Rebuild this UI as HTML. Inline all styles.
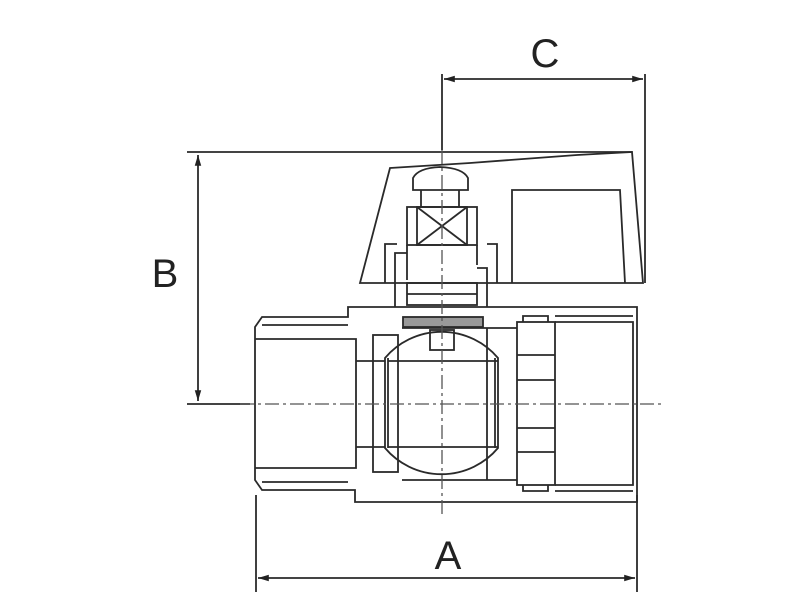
<!DOCTYPE html>
<html><head><style>html,body{margin:0;padding:0;background:#fff}svg{display:block}</style></head>
<body>
<svg width="800" height="600" viewBox="0 0 800 600" xmlns="http://www.w3.org/2000/svg">
<defs>
<marker id="ar" viewBox="0 0 10 10" refX="10" refY="5" markerWidth="8" markerHeight="6" orient="auto-start-reverse"><path d="M0,2 L10,5 L0,8z" fill="#222"/></marker>
</defs>
<g fill="none" stroke="#2a2a2a" stroke-width="1.8">
<line x1="442" y1="74" x2="442" y2="150"/>
<line x1="645" y1="74" x2="645" y2="283"/>
<line x1="444" y1="79" x2="643" y2="79" marker-start="url(#ar)" marker-end="url(#ar)"/>
<line x1="187" y1="152" x2="632" y2="152"/>
<line x1="187" y1="404" x2="250" y2="404"/>
<line x1="198" y1="155" x2="198" y2="401" marker-start="url(#ar)" marker-end="url(#ar)"/>
<line x1="256" y1="495" x2="256" y2="592"/>
<line x1="637" y1="495" x2="637" y2="592"/>
<line x1="258" y1="578" x2="635" y2="578" marker-start="url(#ar)" marker-end="url(#ar)"/>
<path d="M390,168 L470,163 L577,155 L632,152 L643,283 L360,283 Z"/>
<path d="M512,283 L512,190 L620,190 L625,283"/>
<path d="M413,190 L413,178 Q418,168 440,167 Q463,168 468,178 L468,190 Z"/>
<line x1="421" y1="190" x2="421" y2="207"/><line x1="459" y1="190" x2="459" y2="207"/>
<rect x="407" y="207" width="70" height="38"/>
<rect x="417" y="207" width="50" height="38"/>
<line x1="417" y1="207" x2="467" y2="245"/><line x1="467" y1="207" x2="417" y2="245"/>
<path d="M407,245 L407,280 M477,245 L477,265"/>
<path d="M385,283 L385,244 L397,244 M487,244 L497,244 L497,283"/>
<path d="M395,307 L395,253 L407,253 M477,268 L487,268 L487,307"/>
<rect x="407" y="283" width="70" height="22"/>
<line x1="407" y1="294" x2="477" y2="294"/>
<rect x="403" y="317" width="80" height="10" fill="#999"/>
<rect x="430" y="330" width="24" height="20"/>
<path d="M255,327 L262,317 L348,317 L348,307 L637,307 L637,502 L355,502 L355,490 L262,490 L255,480 Z"/>
<line x1="262" y1="325" x2="348" y2="325"/><line x1="262" y1="482" x2="348" y2="482"/>
<path d="M255,339 L356,339 L356,468 L255,468"/>
<line x1="356" y1="361" x2="385" y2="361"/><line x1="356" y1="447" x2="385" y2="447"/>
<rect x="373" y="335" width="25" height="137"/>
<line x1="402" y1="328" x2="517" y2="328"/><line x1="402" y1="480" x2="517" y2="480"/>
<line x1="487" y1="328" x2="487" y2="480"/>
<path d="M385,358 A74,74 0 0 1 498,358 L498,448 A74,74 0 0 1 385,448 Z"/>
<line x1="388" y1="361" x2="498" y2="361"/><line x1="388" y1="447" x2="498" y2="447"/>
<line x1="388" y1="358" x2="388" y2="448"/><line x1="495" y1="358" x2="495" y2="448"/>
<rect x="517" y="322" width="38" height="163"/>
<path d="M523,322 L523,316 L548,316 L548,322 M523,485 L523,491 L548,491 L548,485"/>
<line x1="517" y1="355" x2="555" y2="355"/><line x1="517" y1="380" x2="555" y2="380"/>
<line x1="517" y1="428" x2="555" y2="428"/><line x1="517" y1="452" x2="555" y2="452"/>
<path d="M555,322 L633,322 L633,485 L555,485"/>
<line x1="555" y1="316" x2="633" y2="316"/><line x1="555" y1="491" x2="633" y2="491"/>
</g>
<g stroke="#555" stroke-width="1.3" stroke-dasharray="14,4,3,4" fill="none">
<line x1="240" y1="404" x2="665" y2="404"/>
<line x1="442" y1="150" x2="442" y2="515"/>
</g>
<g font-family="Liberation Sans, sans-serif" font-size="40" fill="#222" text-anchor="middle">
<text x="545" y="67">C</text>
<text x="165" y="287">B</text>
<text x="448" y="569">A</text>
</g>
</svg>
</body></html>
